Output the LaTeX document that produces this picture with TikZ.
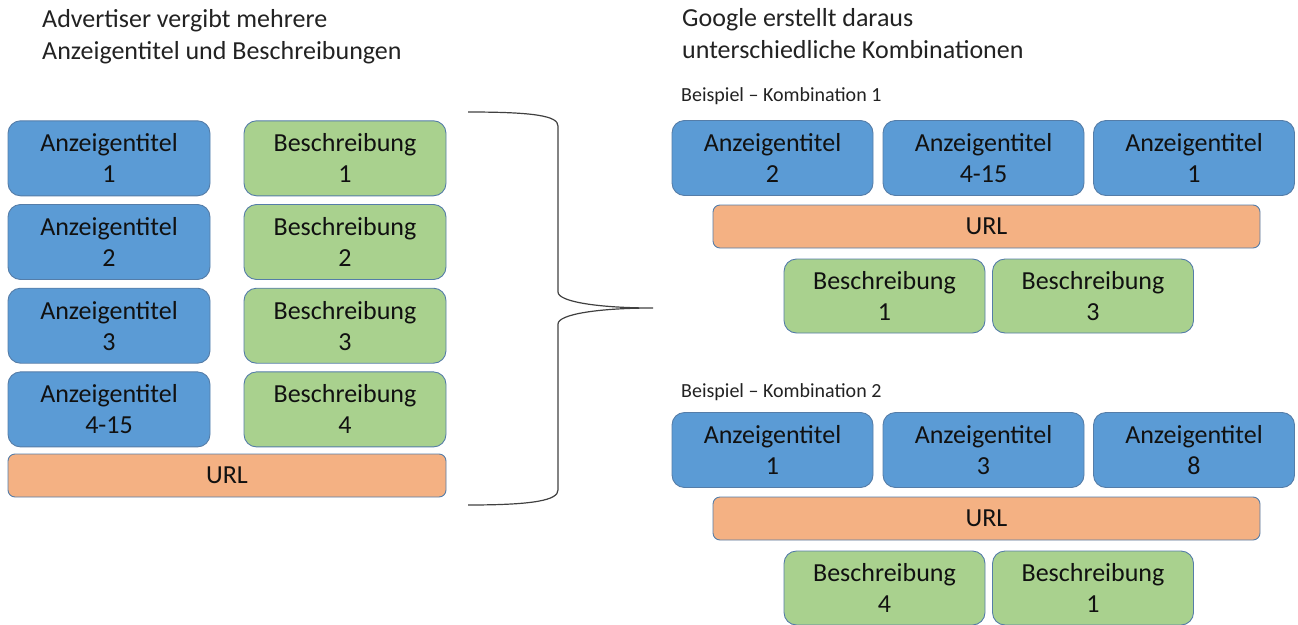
\documentclass[tikz,border=0pt]{standalone}
\usepackage{fontspec}
\setmainfont{Carlito}
\definecolor{bfill}{HTML}{5B9BD5}
\definecolor{gfill}{HTML}{A9D18E}
\definecolor{ofill}{HTML}{F4B183}
\definecolor{edge}{RGB}{85,125,168}
\definecolor{txt}{HTML}{111111}
\definecolor{head}{HTML}{222222}
\definecolor{bracec}{HTML}{404040}
\newcommand\boxfont{\fontsize{26}{31}\selectfont}
\newcommand\headfont{\fontsize{26}{32}\selectfont}
\newcommand\smallfont{\fontsize{20}{24}\selectfont}
\begin{document}
\begin{tikzpicture}[x=1pt,y=-1pt,
  box/.style={draw=edge, line width=0.9pt, inner sep=0pt, outer sep=0pt, align=center, font=\boxfont, text=txt},
  bluebox/.style={box, fill=bfill, minimum width=201pt, minimum height=75pt, rounded corners=12.5pt},
  greenbox/.style={box, fill=gfill, minimum width=201pt, minimum height=74pt, rounded corners=12.5pt},
  urlbox/.style={box, fill=ofill, minimum height=43pt, rounded corners=7pt},
  heading/.style={anchor=base west, inner sep=0pt, font=\headfont, text=head},
  example/.style={anchor=base west, inner sep=0pt, font=\smallfont, text=head},
  bracepath/.style={draw=bracec, line width=1.2pt}
]
\useasboundingbox (0,0) rectangle (1298,624);

% headings
\node[heading] (h1a) at (42,27.3) {Advertiser vergibt mehrere};
\node[heading] (h1b) at (42,59.3) {Anzeigentitel und Beschreibungen};
\node[heading] (h2a) at (682,26.7) {Google erstellt daraus};
\node[heading] (h2b) at (682,58.3) {unterschiedliche Kombinationen};

% left column
\node[bluebox, minimum width=202pt] (a1) at (109,158.3) {Anzeigentitel\\1};
\node[bluebox, minimum width=202pt] (a2) at (109,242) {Anzeigentitel\\2};
\node[bluebox, minimum width=202pt] (a3) at (109,325.7) {Anzeigentitel\\3};
\node[bluebox, minimum width=202pt] (a4) at (109,409.4) {Anzeigentitel\\4-15};
\node[greenbox, minimum width=202pt, minimum height=75pt] (b1) at (345,158.3) {Beschreibung\\1};
\node[greenbox, minimum width=202pt, minimum height=75pt] (b2) at (345,242) {Beschreibung\\2};
\node[greenbox, minimum width=202pt, minimum height=75pt] (b3) at (345,325.7) {Beschreibung\\3};
\node[greenbox, minimum width=202pt, minimum height=75pt] (b4) at (345,409.4) {Beschreibung\\4};
\node[urlbox, minimum width=438pt] (u0) at (227,475.5) {URL};

% brace
\draw[bracepath] (468,112) .. controls (535,112) and (558,116) .. (558,126)
  -- (558,292) .. controls (558,302) and (600,308) .. (653,308)
  .. controls (600,308) and (558,314) .. (558,324)
  -- (558,490) .. controls (558,500) and (535,505) .. (468,505);

% Kombination 1
\node[example] (e1) at (681,101.7) {Beispiel – Kombination 1};
\node[bluebox] (k1a1) at (772.5,158) {Anzeigentitel\\2};
\node[bluebox] (k1a2) at (983.5,158) {Anzeigentitel\\4-15};
\node[bluebox] (k1a3) at (1194,158) {Anzeigentitel\\1};
\node[urlbox, minimum width=547pt] (k1u) at (986.5,226.5) {URL};
\node[greenbox] (k1b1) at (884.5,296) {Beschreibung\\1};
\node[greenbox] (k1b2) at (1093,296) {Beschreibung\\3};

% Kombination 2
\node[example] (e2) at (681,397.3) {Beispiel – Kombination 2};
\node[bluebox] (k2a1) at (772.5,450) {Anzeigentitel\\1};
\node[bluebox] (k2a2) at (983.5,450) {Anzeigentitel\\3};
\node[bluebox] (k2a3) at (1194,450) {Anzeigentitel\\8};
\node[urlbox, minimum width=547pt] (k2u) at (986.5,518.5) {URL};
\node[greenbox] (k2b1) at (884.5,588) {Beschreibung\\4};
\node[greenbox] (k2b2) at (1093,588) {Beschreibung\\1};
\end{tikzpicture}
\end{document}
